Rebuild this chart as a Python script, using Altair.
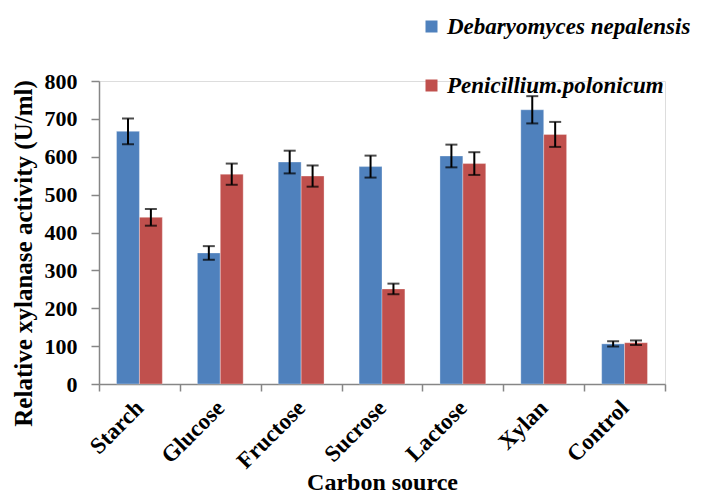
import altair as alt
import pandas as pd

categories = ["Starch", "Glucose", "Fructose", "Sucrose", "Lactose", "Xylan", "Control"]
series = ["Debaryomyces nepalensis", "Penicillium.polonicum"]
debaryomyces = [667, 346, 586, 574, 602, 724, 106]
debaryomyces_err = [34, 18, 30, 29, 30, 36, 7]
penicillium = [440, 554, 549, 251, 582, 659, 109]
penicillium_err = [22, 28, 28, 14, 30, 33, 6]
y_ticks = [0, 100, 200, 300, 400, 500, 600, 700, 800]

rows = []
for i, c in enumerate(categories):
    rows.append({"source": c, "organism": series[0], "value": debaryomyces[i],
                 "lo": debaryomyces[i] - debaryomyces_err[i], "hi": debaryomyces[i] + debaryomyces_err[i]})
    rows.append({"source": c, "organism": series[1], "value": penicillium[i],
                 "lo": penicillium[i] - penicillium_err[i], "hi": penicillium[i] + penicillium_err[i]})
df = pd.DataFrame(rows)

FONT = "Liberation Serif"
AX = "#868686"

x = alt.X("source:N", sort=categories, title="Carbon source",
          scale=alt.Scale(paddingInner=0, paddingOuter=0),
          axis=alt.Axis(labelAngle=-45, labelAlign="right", labelBaseline="middle",
                        tickBand="extent", tickSize=7, tickColor=AX,
                        domainColor=AX, domainWidth=1.5, tickWidth=1.5,
                        labelFont=FONT, labelFontSize=23, labelFontWeight="bold",
                        labelColor="black", labelPadding=13, labelOverlap=False,
                        titleFont=FONT, titleFontSize=24, titleFontWeight="bold",
                        titleColor="black", titlePadding=-2))
xo = alt.XOffset("organism:N", sort=series,
                 scale=alt.Scale(paddingInner=0, paddingOuter=0.765))

yscale = alt.Scale(domain=[0, 800], nice=False)
yaxis = alt.Axis(values=y_ticks, grid=False,
                 tickSize=8, tickColor=AX, tickWidth=1.5,
                 domainColor=AX, domainWidth=1.5,
                 labelFont=FONT, labelFontSize=22, labelFontWeight="bold",
                 labelColor="black", labelPadding=14, labelOverlap=False,
                 titleFont=FONT, titleFontSize=25, titleFontWeight="bold",
                 titleColor="black", titlePadding=8, titleY=172)
YT = "Relative xylanase activity (U/ml)"

bars = alt.Chart(df).mark_bar(stroke="white", strokeOpacity=0.4, strokeWidth=0.8).encode(
    x=x,
    xOffset=xo,
    y=alt.Y("value:Q", title=YT, scale=yscale, axis=yaxis),
    color=alt.Color("organism:N", sort=series,
                    scale=alt.Scale(domain=series, range=["#4F81BD", "#C0504D"]),
                    legend=alt.Legend(title=None, orient="none", legendX=321, legendY=-66,
                                      padding=0,
                                      symbolType="square", symbolSize=144,
                                      symbolStrokeWidth=0, rowPadding=35,
                                      labelFont=FONT, labelFontSize=23,
                                      labelFontWeight="bold", labelFontStyle="italic",
                                      labelColor="black", labelOffset=4, labelLimit=400)),
)

err_rule = alt.Chart(df).mark_rule(color="black", strokeWidth=2).encode(
    x=x, xOffset=xo,
    y=alt.Y("lo:Q", title=YT, scale=yscale, axis=yaxis), y2="hi:Q")
cap_lo = alt.Chart(df).mark_tick(color="black", thickness=2, size=12, orient="horizontal").encode(
    x=x, xOffset=xo, y=alt.Y("lo:Q", title=YT, scale=yscale, axis=yaxis))
cap_hi = alt.Chart(df).mark_tick(color="black", thickness=2, size=12, orient="horizontal").encode(
    x=x, xOffset=xo, y=alt.Y("hi:Q", title=YT, scale=yscale, axis=yaxis))

chart = alt.layer(bars, err_rule, cap_lo, cap_hi).properties(
    width=566, height=303,
    autosize=alt.AutoSizeParams(type="none"),
    padding={"left": 91, "top": 73, "right": 28, "bottom": 113},
).configure_view(stroke=None).configure(background="white")

chart.save("out.html", embed_options={"renderer": "svg", "actions": False})
